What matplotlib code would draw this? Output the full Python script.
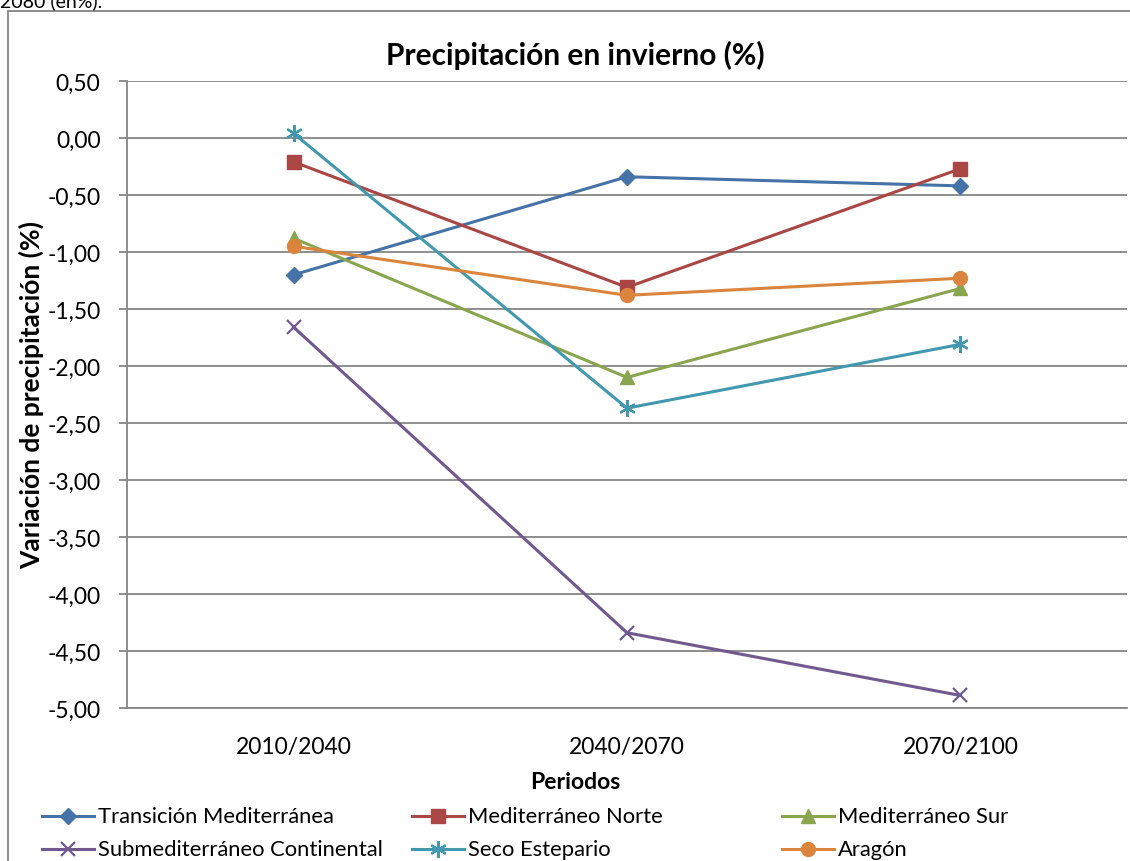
import matplotlib
matplotlib.use("Agg")
import matplotlib.pyplot as plt
from matplotlib.lines import Line2D
from matplotlib.patches import Rectangle
from matplotlib.ticker import FuncFormatter, MultipleLocator

plt.rcParams['font.family'] = ['Lato', 'DejaVu Sans']

periodos = ["2010/2040", "2040/2070", "2070/2100"]

transicion_mediterranea = [-1.20, -0.34, -0.42]
mediterraneo_norte = [-0.21, -1.31, -0.27]
mediterraneo_sur = [-0.88, -2.10, -1.32]
submediterraneo_continental = [-1.66, -4.34, -4.89]
seco_estepario = [0.04, -2.37, -1.81]
aragon = [-0.95, -1.38, -1.23]

series = [
    ("Transición Mediterránea", transicion_mediterranea, "#4572A7", "D", 8),
    ("Mediterráneo Norte", mediterraneo_norte, "#AA4643", "s", 10),
    ("Mediterráneo Sur", mediterraneo_sur, "#89A54E", "^", 10),
    ("Submediterráneo Continental", submediterraneo_continental, "#71588F", "x", 10),
    ("Seco Estepario", seco_estepario, "#4198AF", (6, 2, 0), 12),
    ("Aragón", aragon, "#DB843D", "o", 10),
]

W, H = 1130, 862
fig = plt.figure(figsize=(W / 100, H / 100), dpi=100)

# chart frame
fig.patches.append(Rectangle((8 / W, -0.05), 1.2, 1 - 12 / H + 0.05,
                             transform=fig.transFigure, fill=False,
                             edgecolor="#868686", linewidth=1.3))
fig.text(0 / W, 1 - 7 / H, "2080 (en%).", fontsize=14, va="baseline", ha="left")

ax = fig.add_axes([127 / W, 1 - 709 / H, 1000 / W, (709 - 82) / H])
x = list(range(len(periodos)))
for name, vals, color, marker, ms in series:
    ax.plot(x, vals, color=color, linewidth=2.2, marker=marker, markersize=ms,
            markeredgecolor=color, markerfacecolor=color,
            markeredgewidth=1.6 if marker in ("x", (6, 2, 0)) else 1.0,
            label=name, zorder=3)

ax.set_xlim(-0.5, len(periodos) - 0.5)
ax.set_ylim(-5.0, 0.5)
ax.yaxis.set_major_locator(MultipleLocator(0.5))
ax.yaxis.set_major_formatter(FuncFormatter(lambda v, p: f"{v:.2f}".replace(".", ",")))
ax.set_xticks(x)
ax.set_xticklabels(periodos)
ax.grid(axis="y", color="#868686", linewidth=1.3, zorder=0)
ax.set_axisbelow(True)
for s in ("top", "right"):
    ax.spines[s].set_visible(False)
for s in ("left", "bottom"):
    ax.spines[s].set_color("#868686")
    ax.spines[s].set_linewidth(1.3)
ax.tick_params(axis="y", length=6, width=1.3, color="#868686", pad=13, labelsize=16.5)
ax.tick_params(axis="x", length=0, pad=20, labelsize=16.5)

fig.text(575 / W, 1 - 783 / H, "Periodos", fontsize=16.5, fontweight="bold",
         ha="center", va="center")
fig.text(31 / W, 1 - 395 / H, "Variación de precipitación (%)", rotation=90,
         fontsize=19, fontweight="bold", ha="center", va="center")
fig.text(575 / W, 1 - 55 / H, "Precipitación en invierno (%)", fontsize=21.5,
         fontweight="bold", ha="center", va="center")

# legend, three columns by two rows
col_x = [42, 412, 782]
row_y = [817, 850]
for i, (name, vals, color, marker, ms) in enumerate(series):
    r, c = divmod(i, 3)
    x0, y0 = col_x[c], row_y[r]
    fig.add_artist(Line2D([x0 / W, (x0 + 52) / W], [1 - y0 / H, 1 - y0 / H],
                          transform=fig.transFigure, color=color, linewidth=2.2))
    fig.add_artist(Line2D([(x0 + 26) / W], [1 - y0 / H], transform=fig.transFigure,
                          color=color, marker=marker, markersize=ms,
                          markeredgecolor=color, markerfacecolor=color,
                          markeredgewidth=1.6 if marker in ("x", (6, 2, 0)) else 1.0,
                          linestyle="none"))
    fig.text((x0 + 56) / W, 1 - y0 / H, name, fontsize=15.8, ha="left", va="center")

fig.savefig("out.png", dpi=100)
